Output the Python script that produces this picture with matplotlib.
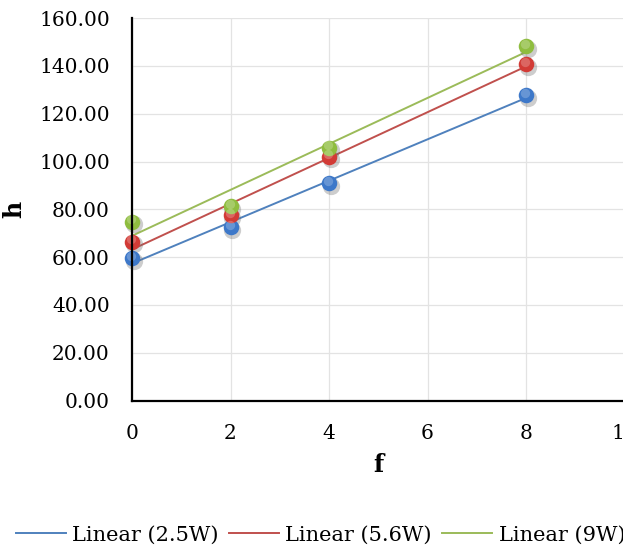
import numpy as np
import matplotlib
matplotlib.use('Agg')
import matplotlib.pyplot as plt
import matplotlib.transforms as mtransforms

# data
f_vals = [0, 2, 4, 8]
h_25w = [59.5, 72.5, 90.8, 127.7]
h_56w = [66.5, 77.6, 102.0, 140.7]
h_9w = [74.8, 81.3, 105.8, 148.3]
series_names = ['2.5W', '5.6W', '9W']
y_ticks = [0, 20, 40, 60, 80, 100, 120, 140, 160]
x_ticks = [0, 2, 4, 6, 8, 10]

plt.rcParams['font.family'] = 'DejaVu Serif'

fig = plt.figure(figsize=(6.23, 5.48), dpi=100)
ax = fig.add_axes([132 / 623, 1 - 400.5 / 548, (624.5 - 132) / 623, (400.5 - 18.1) / 548])

line_colors = ['#4f81bd', '#c0504d', '#9bbb59']
dot_colors = ['#3d78c9', '#d23b36', '#8fbd3f']
all_h = [h_25w, h_56w, h_9w]

x = np.array(f_vals)
for name, h, lc, dc in zip(series_names, all_h, line_colors, dot_colors):
    h = np.array(h)
    # linear trendline like excel
    k, b = np.polyfit(x, h, 1)
    xs = np.array([x.min(), x.max()])
    ax.plot(xs, k * xs + b, color=lc, lw=1.4, label='Linear (' + name + ')', zorder=3)
    # shadow, dot, highlight
    shadow = mtransforms.offset_copy(ax.transData, fig=fig, x=1.5, y=-2.5, units='dots')
    ax.scatter(x, h, s=155, color='#707070', alpha=0.35, lw=0, transform=shadow, zorder=4, clip_on=False)
    ax.scatter(x, h, s=125, color=dc, lw=0, zorder=5, clip_on=False)
    hl = mtransforms.offset_copy(ax.transData, fig=fig, x=-1.0, y=2.5, units='dots')
    ax.scatter(x, h, s=45, color='white', alpha=0.22, lw=0, transform=hl, zorder=6, clip_on=False)

ax.set_xlim(0, 10)
ax.set_ylim(0, 160)
ax.set_xticks(x_ticks)
ax.set_yticks(y_ticks)
ax.set_yticklabels(['%.2f' % v for v in y_ticks])
ax.tick_params(length=0, labelsize=14.5)
ax.tick_params(axis='x', pad=17)
ax.tick_params(axis='y', pad=16)
ax.grid(True, color='#e3e3e3', lw=0.9)
ax.set_axisbelow(True)
for s in ['top', 'right']:
    ax.spines[s].set_visible(False)
for s in ['left', 'bottom']:
    ax.spines[s].set_linewidth(1.6)
    ax.spines[s].set_color('black')
    ax.spines[s].set_zorder(7)

ax.set_xlabel('f', fontsize=17, fontweight='bold', labelpad=7)
ax.set_ylabel('h', fontsize=17, fontweight='bold', labelpad=9)

fig.legend(loc='center left', bbox_to_anchor=(16 / 623, 1 - 535 / 548), ncol=3,
           frameon=False, fontsize=15, handlelength=2.4, handletextpad=0.3,
           columnspacing=0.5, borderpad=0, borderaxespad=0)

fig.savefig('out.png', dpi=100)
